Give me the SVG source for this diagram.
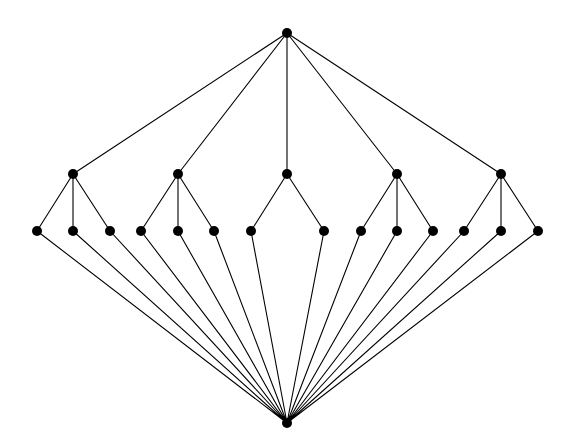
<svg xmlns="http://www.w3.org/2000/svg" width="575" height="447" viewBox="0 0 575 447">
<style>
.e{stroke:#000;stroke-width:1.1;fill:none}
.n{fill:#000}
</style>
<rect width="575" height="447" fill="#fff"/>
<g id="connectors" class="e">
<path d="M287,33L73,174M287,33L178,174M287,33L287,174M287,33L397,174M287,33L501,174"/>
<path d="M73,174L37,231M73,174L73,231M73,174L110,231"/>
<path d="M178,174L141,231M178,174L178,231M178,174L214,231"/>
<path d="M287,174L251,231M287,174L324,231"/>
<path d="M397,174L361,231M397,174L397,231M397,174L433,231"/>
<path d="M501,174L464,231M501,174L501,231M501,174L538,231"/>
<path d="M37,231L287,423M73,231L287,423M110,231L287,423M141,231L287,423M178,231L287,423M214,231L287,423M251,231L287,423M324,231L287,423M361,231L287,423M397,231L287,423M433,231L287,423M464,231L287,423M501,231L287,423M538,231L287,423"/>
</g>
<g class="n">
<circle id="top" cx="287" cy="33" r="5"/>
<circle id="m1" cx="73" cy="174" r="5"/>
<circle id="m2" cx="178" cy="174" r="5"/>
<circle id="m3" cx="287" cy="174" r="5"/>
<circle id="m4" cx="397" cy="174" r="5"/>
<circle id="m5" cx="501" cy="174" r="5"/>
<circle id="l1" cx="37" cy="231" r="5"/>
<circle id="l2" cx="73" cy="231" r="5"/>
<circle id="l3" cx="110" cy="231" r="5"/>
<circle id="l4" cx="141" cy="231" r="5"/>
<circle id="l5" cx="178" cy="231" r="5"/>
<circle id="l6" cx="214" cy="231" r="5"/>
<circle id="l7" cx="251" cy="231" r="5"/>
<circle id="l8" cx="324" cy="231" r="5"/>
<circle id="l9" cx="361" cy="231" r="5"/>
<circle id="l10" cx="397" cy="231" r="5"/>
<circle id="l11" cx="433" cy="231" r="5"/>
<circle id="l12" cx="464" cy="231" r="5"/>
<circle id="l13" cx="501" cy="231" r="5"/>
<circle id="l14" cx="538" cy="231" r="5"/>
<circle id="bottom" cx="287" cy="423" r="5"/>
</g>
</svg>
